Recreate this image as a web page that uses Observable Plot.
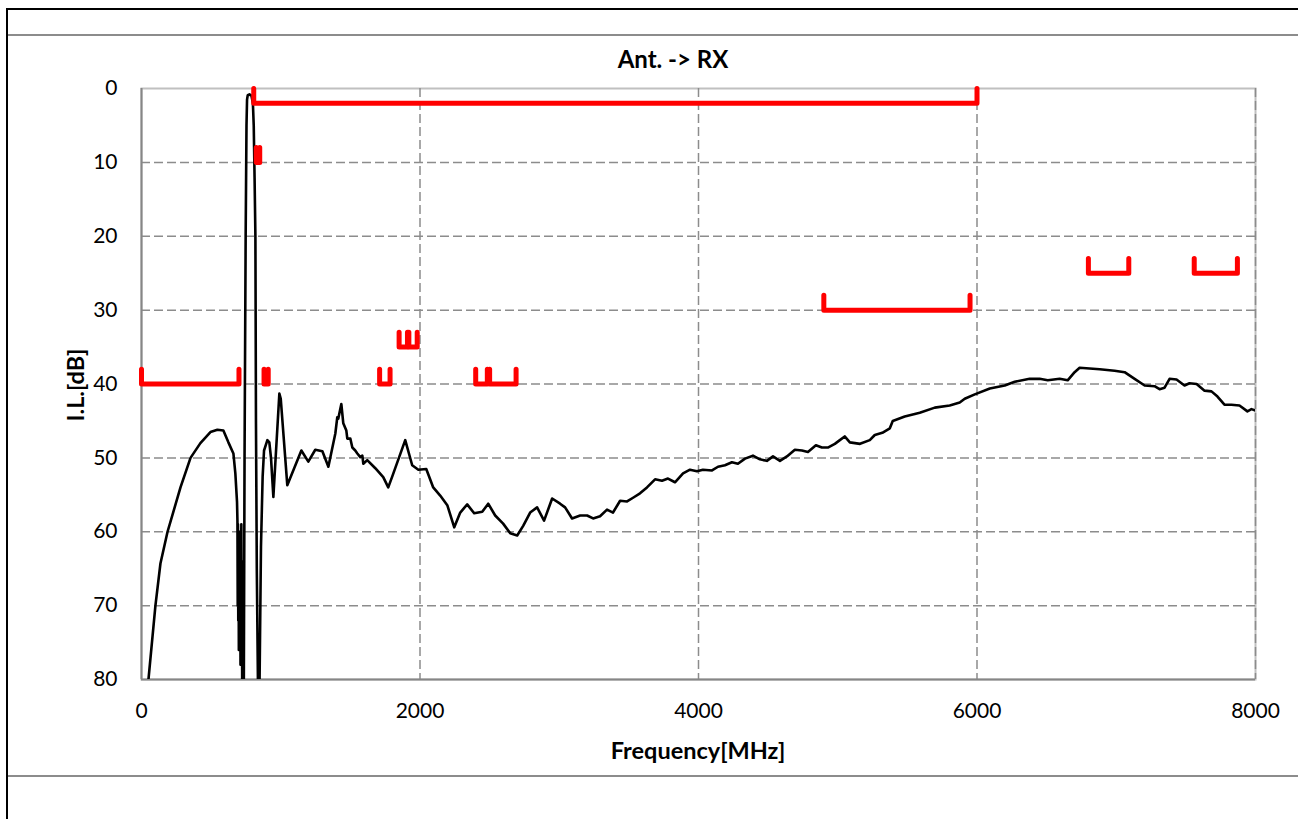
<!DOCTYPE html>
<html><head><meta charset="utf-8">
<script src="https://cdn.jsdelivr.net/npm/d3@7"></script>
<script src="https://cdn.jsdelivr.net/npm/@observablehq/plot@0.6"></script>
<style>
html,body{margin:0;padding:0;background:#fff;overflow:hidden}
#wrap{position:relative;width:1298px;height:819px;overflow:hidden;font-family:Lato,sans-serif;background:#fff}
#chart{position:absolute;left:0;top:0}
.border{position:absolute;left:6px;top:8px;width:1400px;height:1000px;border:2px solid #000;box-sizing:border-box;pointer-events:none}
.hline{position:absolute;left:8px;width:1290px;height:0;border-top:2px solid #8c8c8c}
.txt{position:absolute;font-weight:bold;color:#000;white-space:nowrap;transform:translate(-50%,-50%)}
</style></head><body>
<div id="wrap">
 <div id="chart"></div>
 <div class="border"></div>
 <div class="hline" style="top:34px"></div>
 <div class="hline" style="top:775px"></div>
 <div class="txt" style="left:673px;top:58px;font-size:24px">Ant. -&gt; RX</div>
 <div class="txt" style="left:698px;top:750px;font-size:23.5px">Frequency[MHz]</div>
 <div class="txt" style="left:75px;top:385px;font-size:23.5px;transform:translate(-50%,-50%) rotate(-90deg)">I.L.[dB]</div>
</div>
<script>
// ---- data ----
const xTicks = [0, 2000, 4000, 6000, 8000];
const yTicks = [0, 10, 20, 30, 40, 50, 60, 70, 80];

const freq = [50,100,136,187,280,352,423,495,545,588,624,660,674,686,
 689,691,693,695,697,699,701,703,705,707,709,711,713,715,717,719,721,723,725,727,729,731,733,735,
 740,748,754,758,763,775,790,800,806,812,818,822,828,836,839,842,845,848,858,870,880,904,918,930,947,990,1000,1047,
 1148,1198,1248,1299,1342,1392,1406,1413,1435,1449,1471,1478,1500,1514,1535,1550,1571,1586,1593,1621,1679,1736,1772,1801,
 1894,1944,1988,2045,2095,2145,2196,2246,2289,2339,2389,2447,2490,2540,2597,2648,2698,2741,2791,2841,2891,2949,
 3006,3042,3092,3150,3200,3243,3293,3343,3386,3437,3487,3530,3580,3630,3688,3738,3781,3831,3889,3939,3989,
 4032,4097,4140,4190,4240,4283,4334,4391,4441,4491,4535,4585,4635,4692,4743,4786,4843,4886,4929,4979,
 5015,5050,5087,5160,5230,5266,5320,5374,5395,5481,5589,5697,5804,5876,5912,5984,
 6092,6199,6271,6378,6450,6508,6594,6651,6701,6737,6809,6881,6988,7060,7132,7204,7275,7311,7347,7383,7433,7490,7526,7577,7634,7684,7727,7777,7827,7885,7942,7971,8000];
const loss = [80,70,64.3,60,54,50,48,46.5,46.2,46.3,47.9,49.4,52.1,56,
 58.5,70,59,72,61,76,62,70,60,74,63,78,66,71,59,77,64,80,68,78,72,80,75,80,
 50,20,5,1.5,0.9,0.8,1.0,2.0,5,12,20,45,65,80,74,80,77,80,62,52.5,49,47.6,47.9,50,55.3,41.3,42,53.7,
 49,50.5,48.9,49.1,51.2,46.7,44.5,44.7,42.7,45.3,46.3,47.4,47.4,48.6,49,49.4,49.9,49.7,50.8,50.3,51.4,52.6,54,52.5,
 47.6,51,51.6,51.5,54,55.1,56.4,59.4,57.4,56.3,57.5,57.3,56.2,57.8,58.9,60.2,60.5,59.2,57.4,56.7,58.5,55.5,
 56.2,56.7,58.2,57.8,57.8,58.2,57.9,57,57.4,55.8,55.9,55.4,54.8,54,52.9,53.1,52.8,53.3,52.1,51.6,51.8,
 51.6,51.7,51.2,51,50.6,50.8,50.1,49.7,50.2,50.4,49.8,50.4,49.8,48.9,49,49.2,48.3,48.6,48.6,48.1,
 47.6,47.1,47.9,48.1,47.6,46.9,46.6,46,45,44.4,43.9,43.2,42.9,42.5,42,41.4,
 40.6,40.2,39.7,39.3,39.3,39.5,39.3,39.5,38.4,37.8,37.9,38,38.2,38.4,39.3,40.2,40.3,40.7,40.5,39.3,39.4,40.2,39.9,40,40.9,41,41.7,42.8,42.8,42.9,43.7,43.4,43.6];

// limit masks (red brackets)
const maskStart = [0, 880, 1710, 1850, 1920, 2400, 2500, 806, 824, 4900, 6800, 7560];
const maskEnd   = [700, 910, 1785, 1910, 1980, 2483.5, 2690, 6000, 849, 5950, 7090, 7870];
const maskLevel = [40, 40, 40, 35, 35, 40, 40, 2, 10, 30, 25, 25];
const maskTick = 2;

// ---- build ----
const curve = freq.map((f, i) => ({f, db: loss[i]}));
const maskPts = [];
maskStart.forEach((s, i) => {
  const e = maskEnd[i], l = maskLevel[i];
  maskPts.push({id: i, f: s, db: l - maskTick}, {id: i, f: s, db: l}, {id: i, f: e, db: l}, {id: i, f: e, db: l - maskTick});
});

const gridStyle = {stroke: "#8c8c8c", strokeWidth: 1.5, strokeDasharray: "9,4"};
const chart = Plot.plot({
  width: 1298, height: 819,
  marginLeft: 141, marginRight: 43, marginTop: 88, marginBottom: 140,
  style: {background: "transparent", fontFamily: "Lato, sans-serif", fontSize: "21px", color: "#000"},
  x: {domain: [0, 8000], ticks: xTicks, tickSize: 0, tickPadding: 24, tickFormat: d => String(d), label: null},
  y: {domain: [0, 80], reverse: true, ticks: yTicks, tickSize: 0, tickPadding: 24, tickFormat: d => String(d), label: null},
  marks: [
    Plot.frame({stroke: "#c0c0c0", strokeWidth: 2}),
    Plot.ruleY(yTicks.filter(v => v > 0 && v < 80), gridStyle),
    Plot.ruleX(xTicks.filter(v => v > 0), gridStyle),
    Plot.ruleX([0], {stroke: "#868686", strokeWidth: 2}),
    Plot.ruleY([80], {stroke: "#868686", strokeWidth: 2}),
    Plot.line(curve, {x: "f", y: "db", stroke: "#000", strokeWidth: 2.6, strokeLinejoin: "round", clip: true}),
    Plot.line(maskPts, {x: "f", y: "db", z: "id", stroke: "#ff0000", strokeWidth: 5, strokeLinecap: "round", strokeLinejoin: "round"})
  ]
});
document.getElementById("chart").appendChild(chart);
</script>
</body></html>
